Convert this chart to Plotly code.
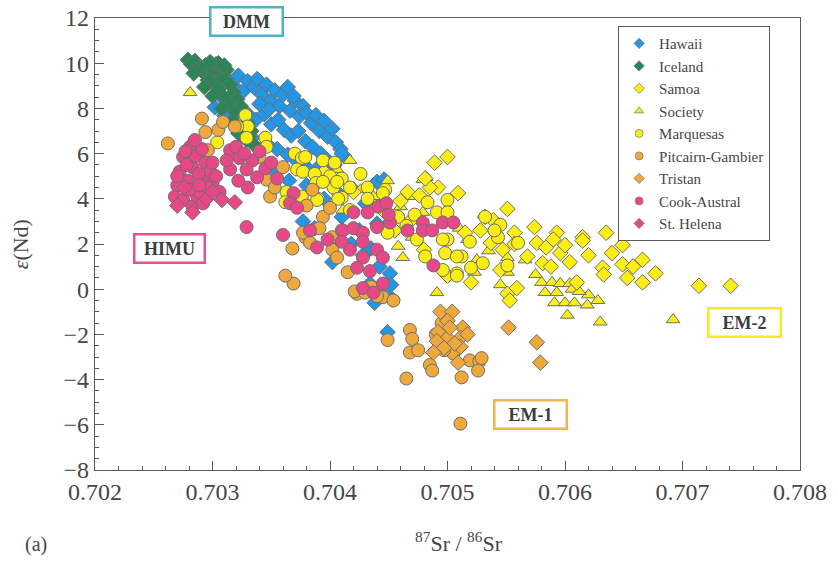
import plotly.graph_objects as go

# ---------------- data (87Sr/86Sr, epsilon Nd) ----------------
iceland_x = [0.70279,0.70282,0.70285,0.70288,0.70284,0.70291,0.70294,0.70297,0.70300,0.70303,0.70306,0.70296,0.70302,0.70309,0.70312,0.70305,0.70315,0.70318,0.70310,0.70321,0.70314,0.70324,0.70320,0.70327,0.70330,0.70325,0.70333,0.70329,0.70336,0.70300,0.70293,0.70317,0.70308,0.70322,0.70331,0.70305,0.70310,0.70298]
iceland_y = [10.15,9.95,10.1,9.8,9.55,9.65,9.9,9.5,9.75,9.95,9.6,9.25,9.1,9.35,9.7,8.85,9.05,8.7,8.5,8.4,8.15,8.1,7.8,7.7,7.35,7.05,7.0,6.6,6.35,8.55,8.95,7.45,8.0,6.9,6.75,10.0,9.9,10.05]

hawaii_x = [0.70312,0.70318,0.70322,0.70326,0.70330,0.70335,0.70338,0.70342,0.70346,0.70350,0.70353,0.70357,0.70360,0.70364,0.70366,0.70370,0.70374,0.70377,0.70380,0.70384,0.70388,0.70391,0.70395,0.70398,0.70402,0.70405,0.70409,0.70412,0.70316,0.70323,0.70330,0.70337,0.70344,0.70350,0.70356,0.70361,0.70367,0.70373,0.70379,0.70385,0.70392,0.70398,0.70404,0.70340,0.70348,0.70310,0.70318,0.70326,0.70334,0.70346,0.70355,0.70364,0.70372,0.70380,0.70388,0.70302,0.70306,0.70369,
            0.70350,0.70365,0.70380,0.70392,0.70400,0.70410,0.70408,0.70440,0.70446,0.70420,0.70395,0.70410,0.70377,0.70387,0.70402,0.70425,0.70430,0.70435,0.70440,0.70402,0.70434,0.70442,0.70451,0.70452,0.70447,0.70438,0.70453,0.70449,0.70428,0.70418]
hawaii_y = [9.35,9.0,9.45,8.75,9.2,8.95,9.3,8.6,9.05,8.35,8.8,8.1,8.6,8.95,7.9,8.35,7.65,8.1,7.8,7.35,7.7,7.0,7.45,6.75,7.1,6.5,6.2,5.9,8.3,8.05,7.75,7.5,7.75,7.3,7.5,7.05,6.8,7.0,6.55,6.3,6.0,5.7,5.5,8.2,7.95,7.7,7.35,7.0,6.7,6.45,6.2,5.95,5.65,5.4,5.1,8.05,8.6,8.55,
            5.2,4.8,4.6,5.5,5.0,6.0,4.2,4.75,4.85,4.4,4.0,3.2,3.0,2.7,2.1,2.6,3.8,1.8,2.9,1.2,0.25,1.0,0.7,0.2,-0.2,-0.6,-0.45,-1.9,1.5,2.0]

samoa_x = [0.70489,0.70500,0.70492,0.70509,0.70551,0.70574,0.70593,0.70615,0.70635,0.70649,0.70666,0.70677,0.70649,0.70658,0.70632,0.70633,0.70653,0.70666,0.70714,0.70741,0.70615,0.70557,0.70557,0.70576,0.70584,0.70596,0.70581,0.70588,0.70604,0.70551,0.70553,0.70559,0.70532,0.70539,0.70528,0.70466,0.70485,0.70481,0.70515,0.70537,0.70547,0.70476,0.70460,0.70445,0.70470,0.70455,0.70480,0.70500,0.70520,0.70420,0.70395,0.70610,0.70620,0.70640,0.70568,0.70545,0.70590,0.70600]
samoa_y = [5.6,5.85,4.5,4.25,3.55,2.75,2.5,2.3,2.5,1.95,1.3,0.7,1.1,1.0,0.95,0.65,0.5,0.3,0.15,0.15,2.15,2.5,2.0,2.05,1.85,1.6,1.15,1.0,1.2,-0.2,-0.5,0.05,3.2,3.05,2.6,4.3,4.5,4.9,2.5,2.05,1.75,4.15,3.9,3.5,3.1,2.6,1.75,0.6,0.3,4.3,5.2,0.3,1.5,1.6,1.45,0.85,2.2,1.95]

society_x = [0.70281,0.70580,0.70589,0.70596,0.70604,0.70583,0.70593,0.70606,0.70591,0.70600,0.70608,0.70602,0.70620,0.70619,0.70628,0.70630,0.70692,0.70491,0.70566,0.70551,0.70551,0.70523,0.70525,0.70517,0.70479,0.70462,0.70417,0.70449,0.70482,0.70471,0.70460,0.70411,0.70426,0.70406,0.70479,0.70454,0.70458,0.70470,0.70437,0.70392,0.70545,0.70575,0.70510,0.70535,0.70612]
society_y = [8.7,0.3,0.3,0.25,0.25,-0.15,-0.15,0.0,-0.6,-0.6,-0.6,-1.15,-0.25,-0.7,-0.5,-1.45,-1.35,-0.15,1.3,1.4,0.75,0.75,1.3,2.2,4.85,1.4,5.7,4.8,4.95,4.1,3.65,3.5,4.4,5.3,3.4,2.75,1.9,2.3,4.1,4.8,0.2,0.65,2.7,1.7,-0.1]

marq_x = [0.70328,0.70330,0.70321,0.70329,0.70345,0.70304,0.70346,0.70370,0.70376,0.70372,0.70379,0.70394,0.70404,0.70426,0.70377,0.70387,0.70400,0.70410,0.70388,0.70403,0.70410,0.70432,0.70447,0.70483,0.70491,0.70500,0.70417,0.70376,0.70390,0.70472,0.70500,0.70532,0.70545,0.70543,0.70519,0.70500,0.70512,0.70530,0.70498,0.70560,0.70551,0.70508,0.70449,0.70474,0.70481,0.70496,0.70508,0.70496,0.70508,0.70394,0.70406,0.70417,0.70363,0.70389,0.70362,0.70407,0.70432,0.70445,0.70458,0.70465,0.70520,0.70540]
marq_y = [7.7,7.2,7.2,6.7,6.7,6.5,6.3,6.0,5.8,5.3,5.85,5.7,5.6,5.1,5.2,5.1,5.0,4.9,4.7,4.5,4.05,4.5,4.4,3.85,3.4,3.95,3.5,4.1,4.0,3.3,3.4,3.2,2.85,2.3,2.1,2.2,1.45,1.15,1.6,2.05,1.05,0.7,2.5,2.2,1.45,2.2,1.45,0.85,0.6,4.75,4.75,4.5,4.3,3.95,3.85,4.0,4.0,4.25,3.2,2.8,0.95,2.6]

pitcairn_x = [0.70262,0.70291,0.70294,0.70305,0.70309,0.70319,0.70296,0.70340,0.70346,0.70349,0.70353,0.70360,0.70369,0.70362,0.70368,0.70394,0.70379,0.70391,0.70402,0.70402,0.70406,0.70415,0.70423,0.70445,0.70454,0.70449,0.70468,0.70470,0.70468,0.70475,0.70485,0.70487,0.70465,0.70512,0.70519,0.70527,0.70529,0.70526,0.70511,0.70495,0.70500,0.70490,0.70505,0.70497,0.70385,0.70400,0.70380,0.70435,0.70440,0.70410,0.70377,0.70383,0.70421,0.70430]
pitcairn_y = [6.45,7.55,6.95,7.05,7.4,7.2,6.15,5.85,4.85,4.1,4.5,5.4,0.25,0.6,1.8,3.2,2.3,2.7,2.3,1.75,1.4,0.75,-0.2,-0.35,-0.5,-2.25,-1.8,-2.2,-2.8,-2.7,-3.35,-3.6,-3.95,-3.9,-3.15,-3.2,-3.05,-3.6,-5.95,-1.5,-2.4,-2.0,-2.85,-2.7,4.4,3.6,3.7,0.1,-0.3,2.6,2.5,2.05,-0.1,-0.15]

tristan_x = [0.70494,0.70504,0.70500,0.70513,0.70492,0.70500,0.70511,0.70511,0.70491,0.70506,0.70509,0.70552,0.70576,0.70579,0.70497,0.70517,0.70488,0.70502]
tristan_y = [-1.0,-1.0,-1.4,-1.7,-1.9,-2.15,-2.15,-2.55,-2.3,-2.4,-3.25,-1.7,-2.35,-3.25,-2.6,-2.0,-2.8,-1.7]

cook_x = [0.70281,0.70275,0.70283,0.70268,0.70275,0.70283,0.70287,0.70290,0.70300,0.70292,0.70279,0.70270,0.70272,0.70278,0.70286,0.70291,0.70294,0.70298,0.70288,0.70280,0.70296,0.70303,0.70285,0.70270,0.70292,0.70306,0.70300,0.70289,0.70277,
          0.70315,0.70323,0.70334,0.70329,0.70315,0.70330,0.70338,0.70345,0.70320,0.70327,0.70340,0.70350,0.70322,0.70312,0.70355,0.70329,0.70360,0.70369,0.70366,0.70372,
          0.70411,0.70420,0.70428,0.70440,0.70410,0.70417,0.70428,0.70440,0.70445,0.70428,0.70423,0.70434,0.70445,0.70428,0.70437,0.70383,0.70389,0.70441,0.70432,0.70451,0.70488,0.70479,0.70496,0.70505,0.70466,0.70479,0.70487,0.70448,0.70420,0.70398,0.70450]
cook_y = [6.3,5.85,5.4,4.1,3.95,3.65,4.1,4.25,4.7,4.9,4.8,4.6,5.2,5.5,5.9,6.2,5.6,5.2,5.1,4.4,4.5,5.0,6.6,5.0,3.8,4.3,5.6,4.6,6.1,
          6.15,5.8,5.7,5.3,5.3,4.5,4.95,5.35,6.3,6.0,6.1,5.6,4.8,5.7,4.9,2.75,2.4,4.25,3.8,3.6,
          2.6,2.7,2.5,2.75,2.1,1.75,2.1,1.75,1.4,1.4,0.95,0.8,0.25,0.05,-0.15,2.6,1.85,3.65,3.4,2.95,1.05,2.95,2.95,2.95,2.6,2.6,2.6,3.8,3.4,2.2,3.3]

helena_x = [0.70308,0.70319,0.70283,0.70295,0.70270,0.70300,0.70276]
helena_y = [3.95,3.85,3.4,4.0,3.7,4.3,4.5]

x_ticks = [0.702,0.703,0.704,0.705,0.706,0.707,0.708]
y_ticks = [-8,-6,-4,-2,0,2,4,6,8,10,12]

# ---------------- styling ----------------
SERIF = "Liberation Serif, Times New Roman, serif"
TXT = "rgb(70,70,70)"
OUT = dict(color="rgb(110,110,110)", width=1)

series = [
    ("Hawaii", hawaii_x, hawaii_y, "diamond", "rgb(35,150,230)", 12),
    ("Iceland", iceland_x, iceland_y, "diamond", "rgb(40,135,85)", 12),
    ("Samoa", samoa_x, samoa_y, "diamond", "rgb(250,238,20)", 12),
    ("Society", society_x, society_y, "triangle-up", "rgb(250,238,20)", 12),
    ("Marquesas", marq_x, marq_y, "circle", "rgb(250,238,20)", 13),
    ("Pitcairn-Gambier", pitcairn_x, pitcairn_y, "circle", "rgb(238,168,60)", 13),
    ("Tristan", tristan_x, tristan_y, "diamond", "rgb(238,168,60)", 12),
    ("Cook-Austral", cook_x, cook_y, "circle", "rgb(232,72,135)", 13),
    ("St. Helena", helena_x, helena_y, "diamond", "rgb(232,72,135)", 12),
]
lookup = {s[0]: s for s in series}
draw_order = ["Hawaii", "Iceland", "Society", "Samoa", "Marquesas", "Pitcairn-Gambier", "Tristan", "Cook-Austral", "St. Helena"]

fig = go.Figure()
for name in draw_order:
    n, xs, ys, sym, col, sz = lookup[name]
    fig.add_trace(go.Scatter(x=xs, y=ys, mode="markers", name=n, showlegend=False,
                             marker=dict(symbol=sym, color=col, size=sz, line=OUT)))
# legend entries with small symbols (legend order)
for n, xs, ys, sym, col, sz in series:
    fig.add_trace(go.Scatter(x=[None], y=[None], mode="markers", name=n, showlegend=True,
                             marker=dict(symbol=sym, color=col, size=8, line=dict(color="rgb(130,130,130)", width=0.8))))

axis_common = dict(
    showgrid=False, zeroline=False, showline=True, mirror=True, automargin=False,
    linecolor="rgb(90,90,90)", linewidth=1.2,
    ticks="inside", ticklen=9, tickcolor="rgb(90,90,90)",
    tickfont=dict(family=SERIF, size=24, color=TXT),
)

fig.update_xaxes(range=[0.702, 0.708], tickvals=x_ticks, ticktext=[f"{v:.3f}" for v in x_ticks],
                 minor=dict(ticks="inside", dtick=0.0002, ticklen=4, tickcolor="rgb(90,90,90)"),
                 **axis_common)
fig.update_yaxes(range=[-8, 12], tickvals=y_ticks, ticktext=[("\u2212" + str(-v)) if v < 0 else str(v) for v in y_ticks],
                 minor=dict(ticks="inside", dtick=0.5, ticklen=4, tickcolor="rgb(90,90,90)"),
                 **axis_common)

def box(text, x, y, col, w, h):
    return dict(text=f"<b>{text}</b>", x=x, y=y, xref="paper", yref="paper", showarrow=False,
                font=dict(family=SERIF, size=18, color="rgb(60,60,60)"),
                bordercolor=col, borderwidth=2.5, borderpad=1, width=w, height=h,
                bgcolor="white", xanchor="center", yanchor="middle")

annotations = [
    box("DMM", 0.2156, 0.9912, "rgb(80,180,200)", 68, 24),
    box("HIMU", 0.105, 0.491, "rgb(232,80,140)", 66, 24),
    box("EM-1", 0.618, 0.122, "rgb(240,180,80)", 68, 24),
    box("EM-2", 0.9206, 0.327, "rgb(245,235,30)", 68, 24),
    dict(text="<sup>87</sup>Sr / <sup>86</sup>Sr", x=0.517, y=-0.16, xref="paper", yref="paper",
         showarrow=False, font=dict(family=SERIF, size=22, color=TXT),
         xanchor="center", yanchor="middle"),
    dict(text="<i>\u03b5</i>(Nd)", x=-0.106, y=0.5, xref="paper", yref="paper", textangle=-90,
         showarrow=False, font=dict(family=SERIF, size=22, color=TXT),
         xanchor="center", yanchor="middle"),
    dict(text="(a)", x=-0.084, y=-0.165, xref="paper", yref="paper",
         showarrow=False, font=dict(family=SERIF, size=20, color=TXT),
         xanchor="center", yanchor="middle"),
]

fig.update_layout(
    width=838, height=561,
    margin=dict(l=95, r=38, t=18, b=91, autoexpand=False),
    paper_bgcolor="white", plot_bgcolor="white",
    showlegend=True,
    legend=dict(x=0.742, y=0.982, xanchor="left", yanchor="top",
                bordercolor="rgb(90,90,90)", borderwidth=1, bgcolor="white",
                font=dict(family=SERIF, size=15, color=TXT),
                tracegroupgap=0, itemwidth=30),
    annotations=annotations,
)

fig.write_html("out.html", config={"displayModeBar": False},
               post_script="document.body.style.margin='0';")
